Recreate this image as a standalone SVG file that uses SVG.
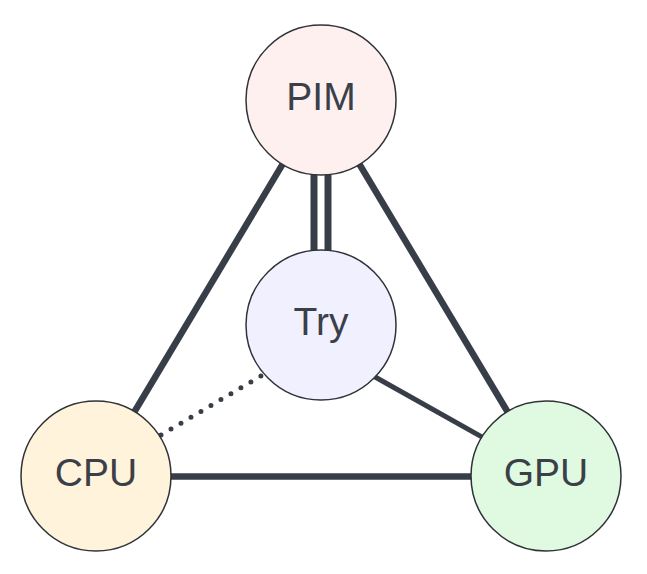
<svg xmlns="http://www.w3.org/2000/svg" width="647" height="574" viewBox="0 0 647 574">
<style>
.node circle{stroke:#2f3338;stroke-width:1.5}
.node text{font-family:"Liberation Sans",Arial,sans-serif;font-size:39px;fill:#3a3f48;text-anchor:middle}
.edge{stroke:#383e48;fill:none}
</style>
<rect width="647" height="574" fill="#ffffff"/>
<g id="connectors">
<line class="edge" x1="321" y1="100" x2="96" y2="476" stroke-width="6.5"/>
<line class="edge" x1="321" y1="100" x2="546" y2="476" stroke-width="6.5"/>
<line class="edge" x1="96" y1="476.5" x2="546" y2="476.5" stroke-width="6.5"/>
<line class="edge" x1="368" y1="373" x2="492" y2="442.6" stroke-width="5"/>
<line class="edge" x1="161" y1="435" x2="266" y2="373" stroke-width="5" stroke-dasharray="0 11.6" stroke-linecap="round"/>
<line class="edge" x1="314" y1="100" x2="314" y2="325" stroke-width="7"/>
<line class="edge" x1="328" y1="100" x2="328" y2="325" stroke-width="7"/>
</g>
<g id="node-PIM" class="node">
<circle cx="321" cy="100" r="75" fill="#fff0f0"/>
<text x="321" y="110">PIM</text>
</g>
<g id="node-Try" class="node">
<circle cx="321" cy="325" r="75" fill="#f0f0fe"/>
<text x="321" y="335">Try</text>
</g>
<g id="node-CPU" class="node">
<circle cx="96" cy="476" r="75" fill="#fff3db"/>
<text x="96" y="485.5">CPU</text>
</g>
<g id="node-GPU" class="node">
<circle cx="546" cy="476" r="75" fill="#e0f9e1"/>
<text x="546" y="485.5">GPU</text>
</g>
</svg>
